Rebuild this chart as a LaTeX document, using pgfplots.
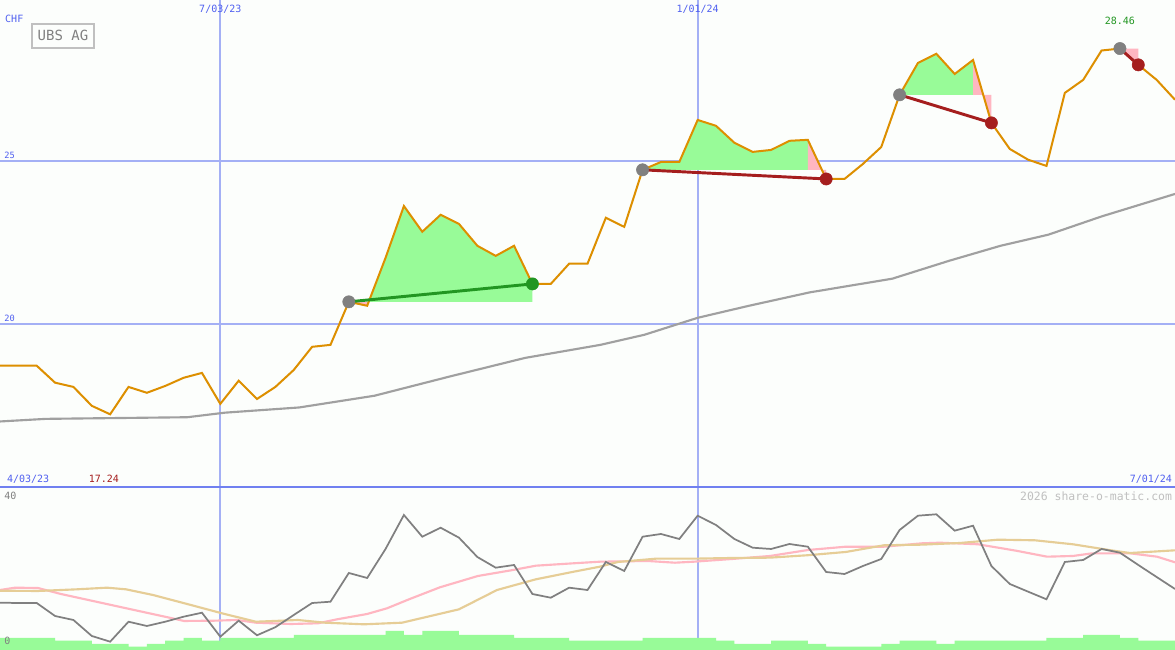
\documentclass[border=0pt]{standalone}
\usepackage{pgfplots}
\pgfplotsset{compat=1.18}
\usepackage{fontspec}
\setmainfont{DejaVu Sans Mono}
\setmonofont{DejaVu Sans Mono}

\definecolor{bg}{RGB}{252,254,252}
\definecolor{price}{RGB}{221,143,0}
\definecolor{ma}{RGB}{160,160,160}
\definecolor{gainfill}{RGB}{152,251,152}
\definecolor{lossfill}{RGB}{255,182,193}
\definecolor{entry}{RGB}{128,128,128}
\definecolor{exitred}{RGB}{165,30,30}
\definecolor{exitgreen}{RGB}{34,150,34}
\definecolor{gridblue}{RGB}{164,176,245}
\definecolor{divider}{RGB}{112,128,240}
\definecolor{labelblue}{RGB}{80,96,240}
\definecolor{osc}{RGB}{128,128,128}
\definecolor{oscpink}{RGB}{255,182,193}
\definecolor{osctan}{RGB}{230,205,150}
\definecolor{boxgray}{RGB}{192,192,192}
\definecolor{wm}{RGB}{192,192,192}

\newcommand\sm{\fontsize{7.5bp}{9bp}\selectfont}
\newcommand\xs{\fontsize{6.5bp}{8bp}\selectfont}

\begin{document}
\begin{tikzpicture}
\pgfplotsset{
  panel/.style={
    scale only axis, width=881.25bp, xmin=0, xmax=64,
    axis line style={draw=none}, tick style={draw=none},
    xticklabels={}, yticklabels={}, clip=false,
    axis background/.style={fill=bg},
    grid=major, grid style={gridblue,line width=1.5bp},
  },
}
% ---------- price panel ----------
\begin{axis}[panel, name=top, height=365.25bp,
  ymin=15.01, ymax=29.95, xtick={12,38}, ytick={20,25}]
% 50-period moving average
\addplot[ma, line width=1.6bp] coordinates {
 (0,17.02) (2.5,17.10) (10.2,17.15) (12.25,17.29) (16.3,17.45) (20.4,17.81)
 (24.5,18.40) (28.6,18.97) (32.7,19.37) (35.1,19.68) (38,20.20) (40.8,20.57)
 (44.1,20.98) (48.6,21.40) (51.7,21.95) (54.5,22.41) (57.1,22.75) (60,23.31) (64,24.00)
};
% trade areas
\addplot[fill=lossfill, draw=none] coordinates {(19,20.69) (20,20.57) (20,20.69)};
\addplot[fill=gainfill, draw=none] coordinates {
 (20,20.69) (20,20.57) (21,22.04) (22,23.63) (23,22.84) (24,23.36) (25,23.08)
 (26,22.41) (27,22.10) (28,22.41) (29,21.24) (29,20.69)};
\addplot[fill=gainfill, draw=none] coordinates {
 (35,24.74) (36,24.98) (37,24.98) (38,26.27) (39,26.09) (40,25.57) (41,25.29)
 (42,25.35) (43,25.63) (44,25.66) (44,24.74)};
\addplot[fill=lossfill, draw=none] coordinates {(44,25.66) (45,24.46) (45,24.74) (44,24.74)};
\addplot[fill=gainfill, draw=none] coordinates {
 (49,27.04) (50,28.02) (51,28.30) (52,27.68) (53,28.11) (53,27.04)};
\addplot[fill=lossfill, draw=none] coordinates {(53,28.11) (54,26.18) (54,27.04) (53,27.04)};
\addplot[fill=lossfill, draw=none] coordinates {(61,28.46) (62,27.96) (62,28.46)};
% weekly close
\addplot[price, line width=1.5bp] coordinates {
 (0,18.73) (1,18.73) (2,18.73) (3,18.21) (4,18.08) (5,17.50) (6,17.24) (7,18.08)
 (8,17.90) (9,18.11) (10,18.36) (11,18.51) (12,17.56) (13,18.27) (14,17.71) (15,18.08)
 (16,18.60) (17,19.31) (18,19.37) (19,20.69) (20,20.57) (21,22.04) (22,23.63) (23,22.84)
 (24,23.36) (25,23.08) (26,22.41) (27,22.10) (28,22.41) (29,21.24) (30,21.24) (31,21.86)
 (32,21.86) (33,23.27) (34,22.99) (35,24.74) (36,24.98) (37,24.98) (38,26.27) (39,26.09)
 (40,25.57) (41,25.29) (42,25.35) (43,25.63) (44,25.66) (45,24.46) (46,24.46) (47,24.92)
 (48,25.44) (49,27.04) (50,28.02) (51,28.30) (52,27.68) (53,28.11) (54,26.18) (55,25.38)
 (56,25.05) (57,24.86) (58,27.10) (59,27.50) (60,28.40) (61,28.46) (62,27.96) (63,27.50)
 (64,26.89)
};
% trade lines
\addplot[exitgreen, line width=2.2bp] coordinates {(19,20.69) (29,21.24)};
\addplot[exitred, line width=2.2bp] coordinates {(35,24.74) (45,24.46)};
\addplot[exitred, line width=2.2bp] coordinates {(49,27.04) (54,26.18)};
\addplot[exitred, line width=2.2bp] coordinates {(61,28.46) (62,27.96)};
% markers
\addplot[only marks, mark=*, mark size=4.6bp, entry, mark options={draw=entry,fill=entry}]
 coordinates {(19,20.69) (35,24.74) (49,27.04) (61,28.46)};
\addplot[only marks, mark=*, mark size=4.6bp, mark options={draw=exitgreen,fill=exitgreen}]
 coordinates {(29,21.24)};
\addplot[only marks, mark=*, mark size=4.6bp, mark options={draw=exitred,fill=exitred}]
 coordinates {(45,24.46) (54,26.18) (62,27.96)};
% labels
\node[anchor=west, text=labelblue, font=\sm, inner sep=0pt] at (axis cs:0.27,29.37) {CHF};
\node[draw=boxgray, line width=1.5bp, text=entry, font=\fontsize{10.5bp}{12bp}\selectfont,
  minimum width=46bp, minimum height=18bp, inner sep=0pt] at (axis cs:3.43,28.85) {UBS AG};
\node[anchor=west, text=labelblue, font=\xs, inner sep=0pt] at (axis cs:0.22,25.17) {25};
\node[anchor=west, text=labelblue, font=\xs, inner sep=0pt] at (axis cs:0.22,20.17) {20};
\node[text=labelblue, font=\sm, inner sep=0pt] at (axis cs:12,29.68) {7/03/23};
\node[text=labelblue, font=\sm, inner sep=0pt] at (axis cs:38,29.68) {1/01/24};
\node[text=exitgreen, font=\sm, inner sep=0pt] at (axis cs:61,29.31) {28.46};
\node[text=labelblue, font=\sm, inner sep=0pt] at (axis cs:1.53,15.26) {4/03/23};
\node[text=exitred, font=\sm, inner sep=0pt] at (axis cs:5.66,15.26) {17.24};
\node[anchor=east, text=labelblue, font=\sm, inner sep=0pt] at (axis cs:63.85,15.26) {7/01/24};
\end{axis}
% ---------- oscillator / volume panel ----------
\begin{axis}[panel, name=bot, at={(top.south west)}, anchor=north west,
  height=122.25bp, ymin=0, ymax=40, xtick={12,38}, ytick=\empty]
% volume
\addplot[const plot, fill=gainfill, draw=none] coordinates {
 (0,3.0) (3,2.3) (5,1.5) (7,0.8) (8,1.5) (9,2.3) (10,3.0) (11,2.3) (12,3.0) (16,3.7)
 (21,4.7) (22,3.7) (23,4.7) (25,3.7) (28,3.0) (31,2.3) (35,3.0) (39,2.3) (40,1.5)
 (42,2.3) (44,1.5) (45,0.8) (48,1.5) (49,2.3) (51,1.5) (52,2.3) (57,3.0) (59,3.7)
 (61,3.0) (62,2.3) (64,2.3)
} \closedcycle;
% slow average
\addplot[oscpink, line width=1.6bp] coordinates {
 (0,14.72) (0.82,15.29) (2.07,15.21) (3.32,13.74) (5.23,11.86) (7.30,9.82) (9.37,7.79)
 (10.02,7.12) (11.66,7.19) (12.91,7.36) (13.94,6.70) (15.85,6.38) (17.32,6.55) (18.36,7.53)
 (19.99,8.83) (21.08,10.23) (22.28,12.44) (23.96,15.38) (26.03,18.16) (27.94,19.63)
 (29.19,20.69) (31.26,21.28) (32.68,21.67) (35.29,21.84) (36.76,21.42) (37.80,21.67)
 (39.87,22.33) (41.94,23.07) (44.01,24.54) (46.08,25.35) (48.15,25.35) (50.22,26.18)
 (51.20,26.33) (53.27,25.94) (55.34,24.37) (57.03,22.90) (58.44,23.07) (59.48,23.72)
 (61.55,23.72) (63.02,22.90) (64,21.52)
};
\addplot[osctan, line width=1.6bp] coordinates {
 (0,14.55) (2.07,14.48) (4.19,14.89) (5.83,15.29) (6.86,14.89) (8.33,13.50) (10.40,11.04)
 (12.09,9.00) (13.94,6.94) (16.23,7.36) (17.70,6.70) (19.83,6.30) (21.90,6.70) (25.00,9.98)
 (27.07,14.72) (29.19,17.35) (31.26,19.22) (32.68,20.45) (33.66,21.60) (35.73,22.41)
 (37.80,22.41) (39.87,22.58) (41.94,22.66) (44.01,23.26) (46.08,24.06) (48.15,25.70)
 (50.22,25.85) (52.29,26.26) (54.36,27.07) (56.37,26.92) (58.44,25.94) (60.51,24.46)
 (61.55,23.80) (64,24.46)
};
% oscillator
\addplot[osc, line width=1.3bp] coordinates {
 (0,11.61) (1,11.53) (2,11.53) (3,8.34) (4,7.36) (5,3.44) (6,2.04) (7,6.94) (8,5.89)
 (9,6.94) (10,8.17) (11,9.15) (12,3.26) (13,7.19) (14,3.61) (15,5.6) (16,8.59) (17,11.53)
 (18,11.85) (19,18.90) (20,17.67) (21,24.79) (22,33.13) (23,27.80) (24,30.01) (25,27.56)
 (26,22.82) (27,20.20) (28,20.86) (29,13.74) (30,12.83) (31,15.29) (32,14.72) (33,21.60)
 (34,19.39) (35,27.80) (36,28.47) (37,27.24) (38,32.96) (39,30.67) (40,27.24) (41,25.10)
 (42,24.79) (43,26.01) (44,25.35) (45,19.14) (46,18.65) (47,20.61) (48,22.33) (49,29.45)
 (50,32.96) (51,33.30) (52,29.28) (53,30.50) (54,20.61) (55,16.20) (56,14.31) (57,12.44)
 (58,21.60) (59,22.09) (60,24.79) (61,23.88) (62,20.86) (63,17.91) (64,14.97)
};
\draw[divider, line width=1.8bp] (rel axis cs:0,1) -- (rel axis cs:1,1);
\node[anchor=west, text=osc, font=\sm, inner sep=0pt] at (axis cs:0.22,37.8) {40};
\node[anchor=west, text=osc, font=\sm, inner sep=0pt] at (axis cs:0.22,2.2) {0};
\node[anchor=east, text=wm, font=\fontsize{8.6bp}{10bp}\selectfont, inner sep=0pt]
  at (axis cs:63.85,37.8) {2026 share-o-matic.com};
\end{axis}
\pgfresetboundingbox
\path[use as bounding box] (top.north west) rectangle (bot.south east);
\end{tikzpicture}
\end{document}
